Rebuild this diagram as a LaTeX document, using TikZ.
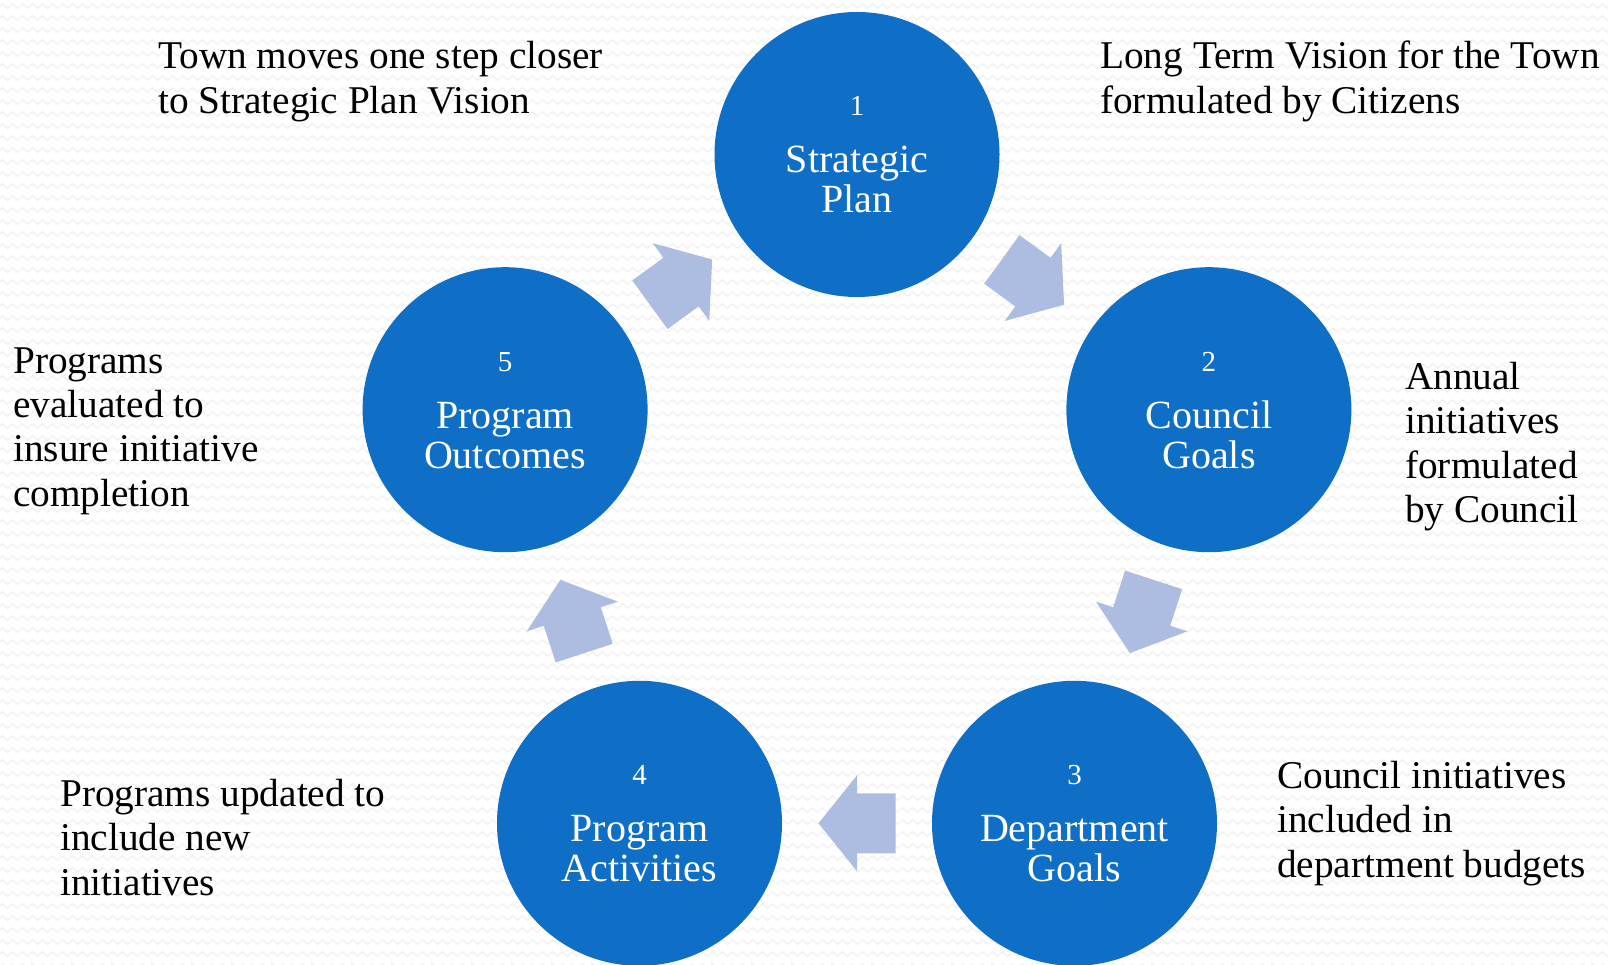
\documentclass[tikz,border=0pt]{standalone}
\usepackage{fontspec}
\setmainfont{Liberation Serif}
\usetikzlibrary{calc,decorations.pathmorphing}
\definecolor{circblue}{HTML}{0F6FC6}
\definecolor{arrowblue}{HTML}{ADBCE1}
\definecolor{bgzig}{HTML}{F0F0F0}
\newcommand{\blocklines}[2][l]{\begin{tabular}[t]{@{}#1@{}}#2\end{tabular}}
\begin{document}
\begin{tikzpicture}[x=1pt,y=-1pt,
  stage/.style={circle, fill=circblue, minimum size=285pt, inner sep=0pt},
  stagenum/.style={text=white, font=\fontsize{29}{29}\selectfont, anchor=base, inner sep=0pt},
  stagetext/.style={text=white, font=\fontsize{40}{40}\selectfont, anchor=base, inner sep=0pt},
  note/.style={text=black, font=\fontsize{39.3}{44.5}\selectfont, anchor=base west, inner sep=0pt},
  cyclearrow/.style={fill=arrowblue},
  zig/.style={draw=bgzig, line width=1.2pt, decorate, decoration={zigzag, segment length=10pt, amplitude=2.2pt}}]
\useasboundingbox (0,0) rectangle (1608,965);
\begin{scope}
  \clip (0,0) rectangle (1608,965);
  \fill[white] (0,0) rectangle (1608,965);
  \foreach \r in {0,...,80} \draw[zig] (-10,{6+12*\r}) -- (1620,{6+12*\r});
\end{scope}

% stages
\node[stage] (c1) at (857,154.5) {};
\node[stage] (c2) at (1208.9,409.7) {};
\node[stage] (c3) at (1074.5,823.3) {};
\node[stage] (c4) at (639.5,823.3) {};
\node[stage] (c5) at (505.1,409.7) {};

\node[stagenum] (n1) at ($(c1)+(0,-38.5)$) {1};
\node[stagetext] (s1) at ($(c1)+(0,18.5)$) {\blocklines[c]{Strategic\\Plan}};
\node[stagenum] (n2) at ($(c2)+(0,-38.5)$) {2};
\node[stagetext] (s2) at ($(c2)+(0,18.5)$) {\blocklines[c]{Council\\Goals}};
\node[stagenum] (n3) at ($(c3)+(0,-38.5)$) {3};
\node[stagetext] (s3) at ($(c3)+(0,18.5)$) {\blocklines[c]{Department\\Goals}};
\node[stagenum] (n4) at ($(c4)+(0,-38.5)$) {4};
\node[stagetext] (s4) at ($(c4)+(0,18.5)$) {\blocklines[c]{Program\\Activities}};
\node[stagenum] (n5) at ($(c5)+(0,-38.5)$) {5};
\node[stagetext] (s5) at ($(c5)+(0,18.5)$) {\blocklines[c]{Program\\Outcomes}};

% arrows
\coordinate (m12) at ($(c1)!0.5!(c2)$);
\coordinate (m23) at ($(c2)!0.5!(c3)$);
\coordinate (m34) at ($(c3)!0.5!(c4)$);
\coordinate (m45) at ($(c4)!0.5!(c5)$);
\coordinate (m51) at ($(c5)!0.5!(c1)$);
\foreach \m/\a in {m12/-36, m23/-108, m34/180, m45/108, m51/36}
  \fill[cyclearrow, shift={(\m)}, rotate=\a]
    (-38.5,-30) -- (0,-30) -- (0,-48) -- (38.5,0) -- (0,48) -- (0,30) -- (-38.5,30) -- cycle;

% notes
\node[note] (t1) at (158,69) {\blocklines{Town moves one step closer\\to Strategic Plan Vision}};
\node[note] (t2) at (1100,69) {\blocklines{Long Term Vision for the Town\\formulated by Citizens}};
\node[note] (t3) at (1405,389) {\blocklines{Annual\\initiatives\\formulated\\by Council}};
\node[note] (t4) at (1277,788) {\blocklines{Council initiatives\\included in\\department budgets}};
\node[note] (t5) at (60,806) {\blocklines{Programs updated to\\include new\\initiatives}};
\node[note] (t6) at (13,373) {\blocklines{Programs\\evaluated to\\insure initiative\\completion}};
\end{tikzpicture}
\end{document}
